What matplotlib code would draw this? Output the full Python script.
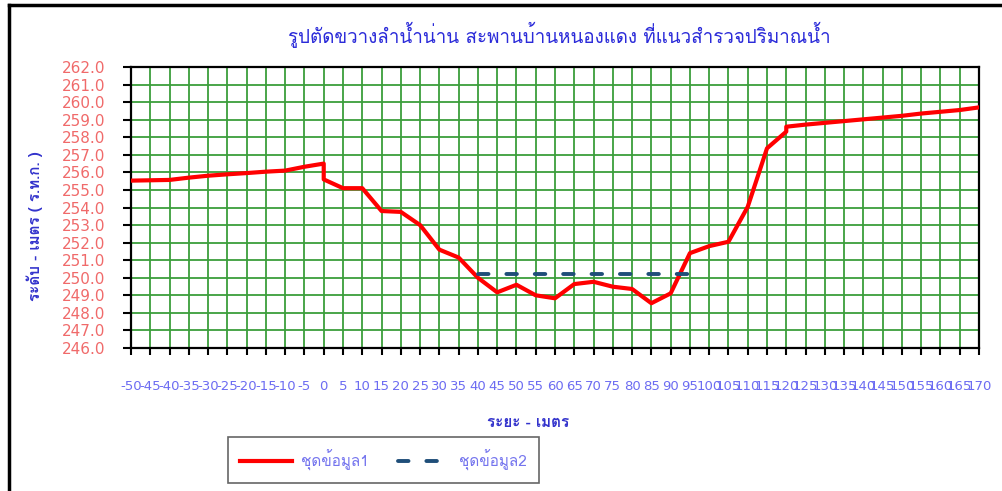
import matplotlib
matplotlib.use("Agg")
import matplotlib.pyplot as plt
from matplotlib.lines import Line2D

# ---- data ----
x_ground = [-50, -45, -40, -35, -30, -25, -20, -15, -10, -5, 0, 0, 5, 10, 15, 20, 25, 30, 35,
            40, 45, 50, 55, 60, 65, 70, 75, 80, 85, 90, 95, 100, 105, 110, 115, 120, 120,
            125, 130, 135, 140, 145, 150, 155, 160, 165, 170]
y_ground = [255.53, 255.55, 255.57, 255.7, 255.81, 255.89, 255.96, 256.04, 256.1, 256.32, 256.5,
            255.6, 255.1, 255.1, 253.8, 253.75, 253.0, 251.6, 251.15,
            250.0, 249.17, 249.6, 249.0, 248.83, 249.64, 249.77, 249.49, 249.36, 248.55, 249.11,
            251.4, 251.8, 252.05, 254.04, 257.37, 258.32, 258.6,
            258.72, 258.82, 258.92, 259.02, 259.12, 259.22, 259.35, 259.45, 259.55, 259.7]
x_water = [40, 95]
y_water = [250.2, 250.2]

x_ticks = list(range(-50, 171, 5))
y_ticks = [246 + i for i in range(17)]

title = "รูปตัดขวางลำน้ำน่าน สะพานบ้านหนองแดง ที่แนวสำรวจปริมาณน้ำ"
xlabel = "ระยะ - เมตร"
ylabel = "ระดับ - เมตร ( ร.ท.ก. )"
series_names = ["ชุดข้อมูล1", "ชุดข้อมูล2"]

# ---- style ----
FONT = ["Loma", "DejaVu Sans"]
NUMFONT = ["DejaVu Sans"]
plt.rcParams["font.family"] = FONT

fig = plt.figure(figsize=(10.02, 4.91), dpi=100)
ax = fig.add_axes([131 / 1002, 1 - 348 / 491, (979 - 131) / 1002, (348 - 67) / 491])

ax.plot(x_ground, y_ground, color="#FF0000", lw=3.0, solid_joinstyle="round", zorder=3,
        label=series_names[0])
ax.plot(x_water, y_water, color="#1F4E79", lw=2.8, linestyle=(0, (2.7, 4.6)),
        dash_capstyle="round", zorder=4, label=series_names[1])

ax.set_xlim(-50, 170)
ax.set_ylim(246, 262)
ax.set_xticks(x_ticks)
ax.set_xticklabels([str(v) for v in x_ticks], family=NUMFONT)
ax.set_yticks(y_ticks)
ax.set_yticklabels(["%.1f" % v for v in y_ticks], family=NUMFONT)

ax.grid(True, color="#3C9E3C", lw=1.3, zorder=1)
ax.set_axisbelow(True)
for s in ax.spines.values():
    s.set_color("black")
    s.set_linewidth(1.6)

ax.xaxis.set_tick_params(direction="out", length=5.0, width=1.5, color="black",
                         labelcolor="#6C6CF2", labelsize=9.5, pad=18)
ax.yaxis.set_tick_params(direction="out", length=5.8, width=1.5, color="black",
                         labelcolor="#F06A6A", labelsize=11, pad=13)

fig.text(559 / 1002, 1 - 35 / 491, title, ha="center", va="center", color="#2B2BD9",
         fontsize=13.5)
fig.text(528 / 1002, 1 - 423 / 491, xlabel, ha="center", va="center", color="#3333CC",
         fontsize=11, fontweight="bold")
fig.text(35 / 1002, 1 - 226 / 491, ylabel, ha="center", va="center", color="#3333CC",
         fontsize=11, fontweight="bold", rotation=90)

leg = fig.legend(loc="center", bbox_to_anchor=(383.5 / 1002, 1 - 460 / 491), ncol=2,
                 frameon=True, fancybox=False, edgecolor="#404040", fontsize=11,
                 handlelength=3.4, columnspacing=1.9, borderpad=0.8, handletextpad=0.6)
leg.get_frame().set_linewidth(1.2)
for t in leg.get_texts():
    t.set_color("#7474EE")

# outer frame (top and left)
fig.add_artist(Line2D([9 / 1002, 1.0], [1 - 5 / 491, 1 - 5 / 491], color="black", lw=2.5,
                      transform=fig.transFigure))
fig.add_artist(Line2D([9 / 1002, 9 / 1002], [0.0, 1 - 5 / 491], color="black", lw=2.5,
                      transform=fig.transFigure))

fig.savefig("out.png", dpi=100)
